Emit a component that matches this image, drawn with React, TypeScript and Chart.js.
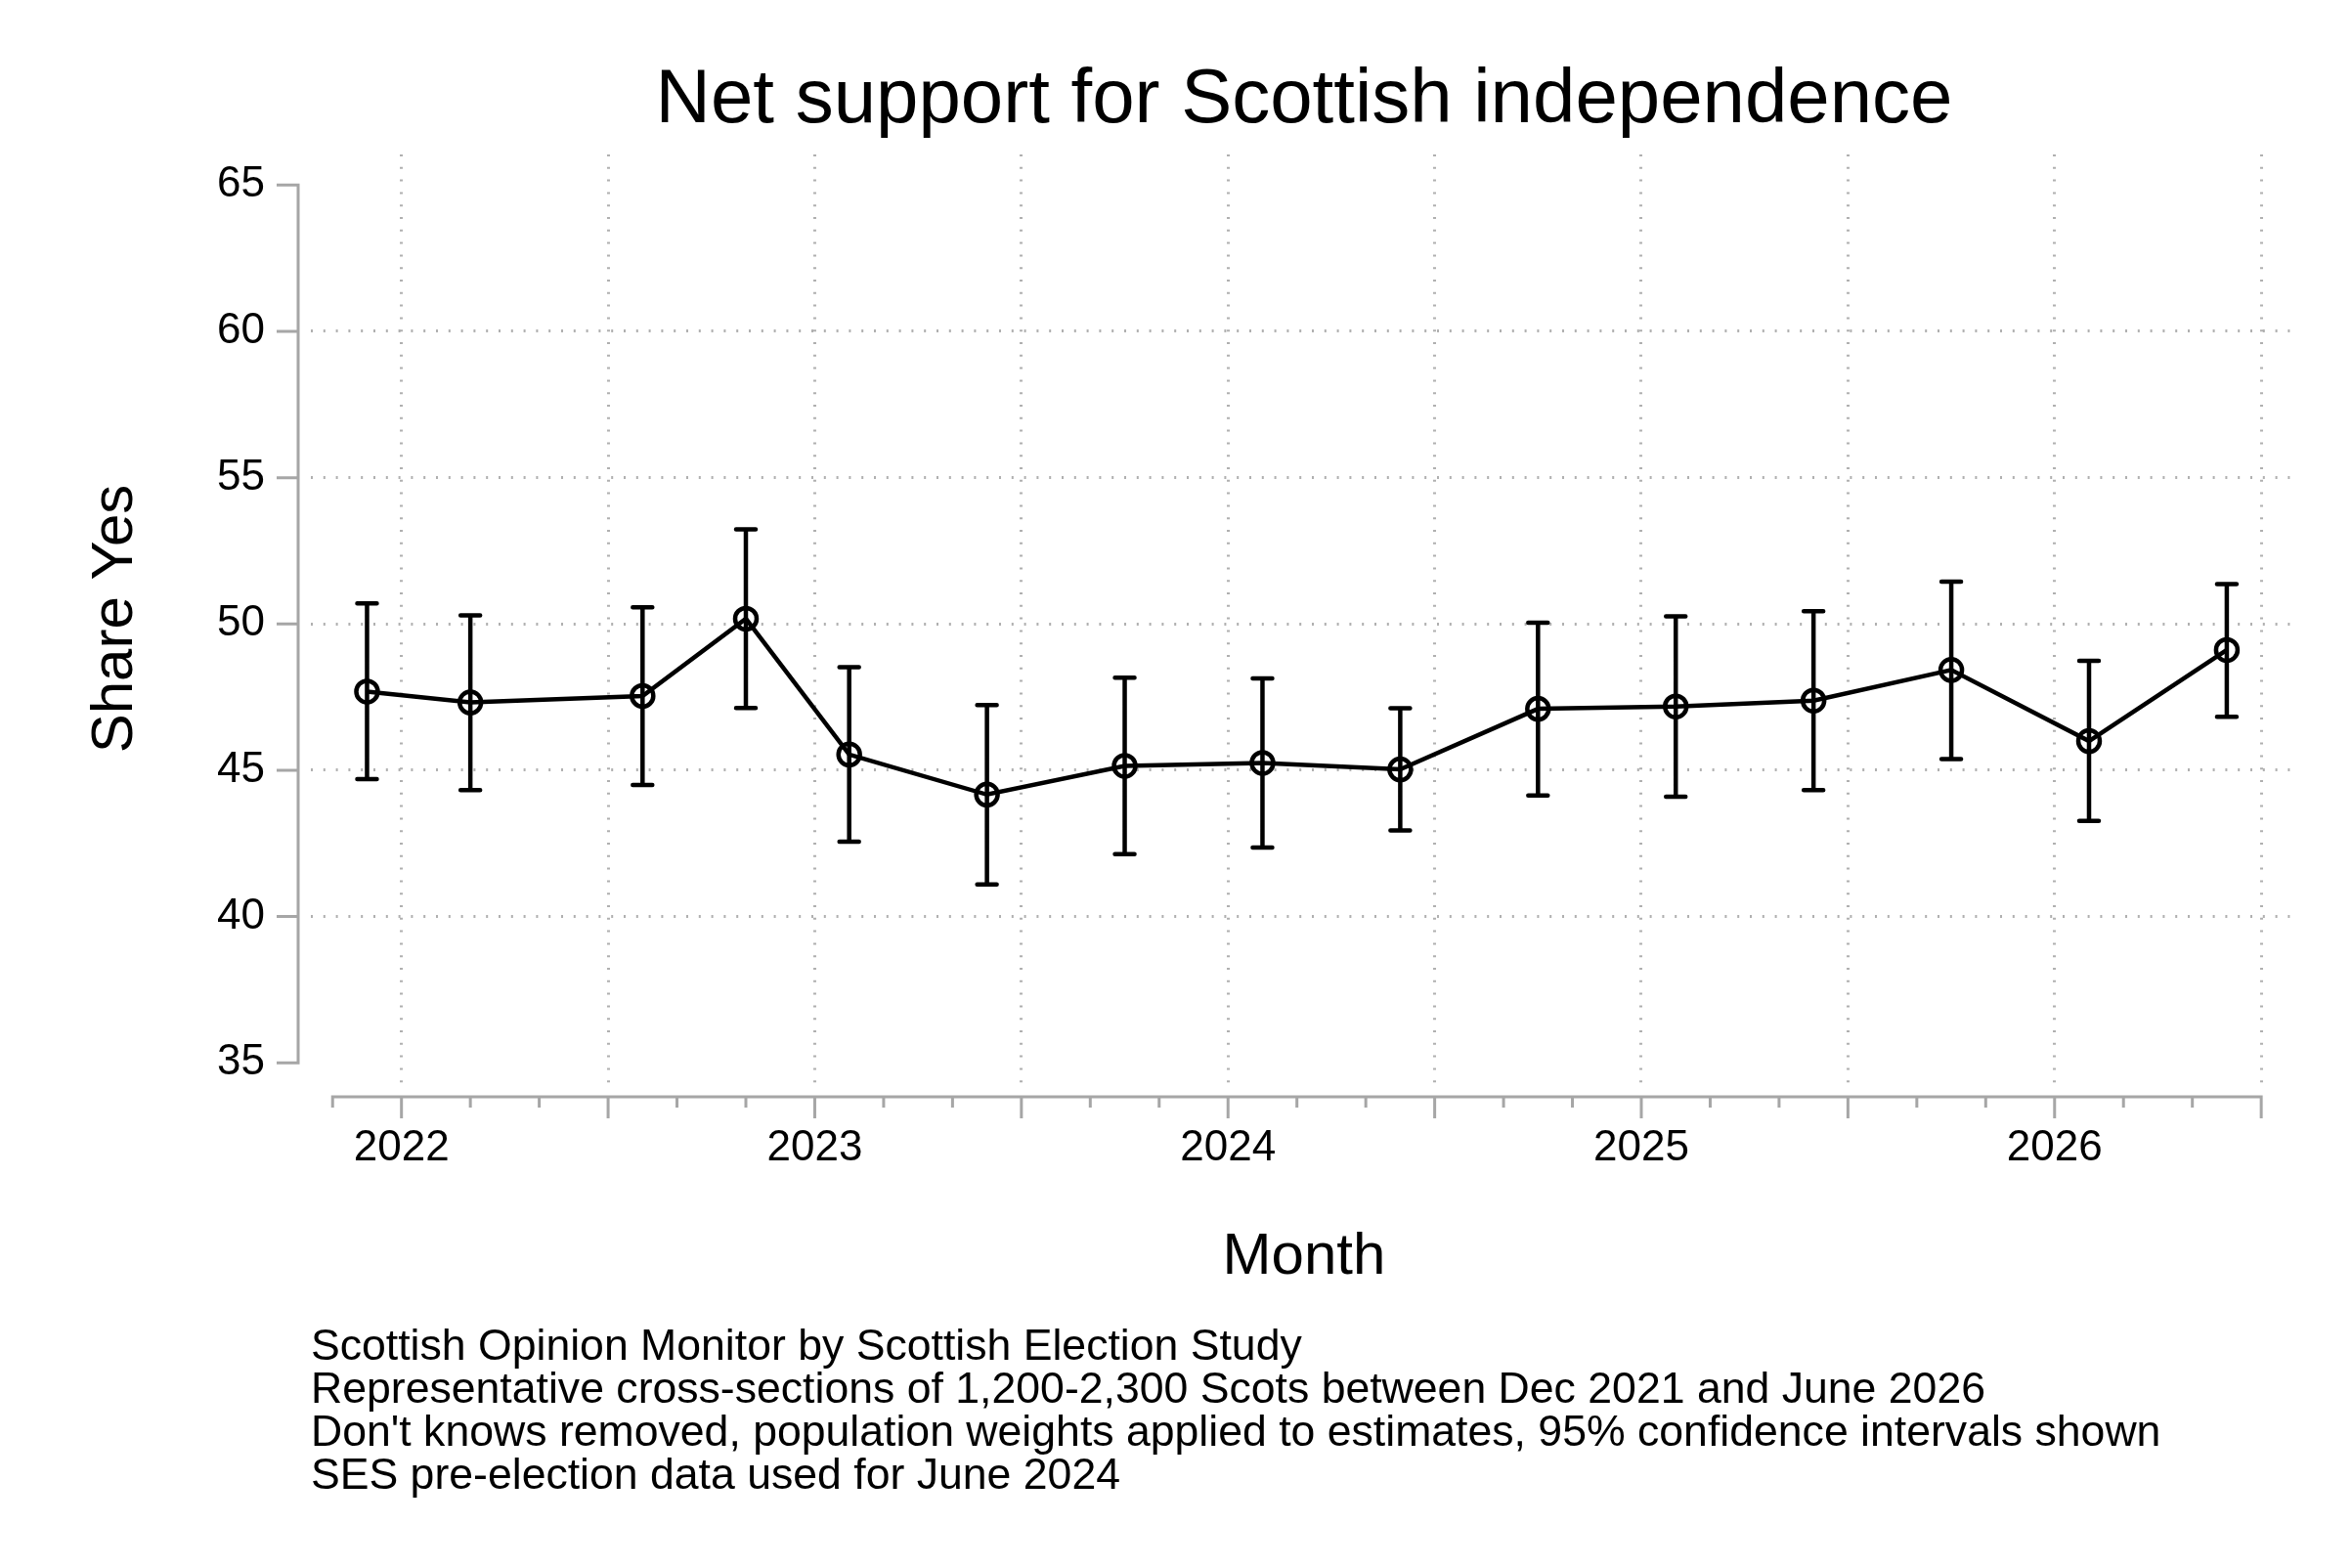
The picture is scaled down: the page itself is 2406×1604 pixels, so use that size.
import React, { useEffect, useRef } from "react";
import { Chart, ChartConfiguration, registerables } from "chart.js";

Chart.register(...registerables);

const FONT = '"Liberation Sans", Arial, Helvetica, sans-serif';

// survey waves (year-month) and estimates
const surveyMonths = [
  "2021-12", "2022-03", "2022-08", "2022-11", "2023-02", "2023-06", "2023-10", "2024-02",
  "2024-06", "2024-10", "2025-02", "2025-06", "2025-10", "2026-02", "2026-06",
];
const shareYes = [47.69, 47.32, 47.54, 50.18, 45.54, 44.17, 45.15, 45.25, 45.03, 47.1, 47.18, 47.38, 48.43, 46.0, 49.11];
const ciLow = [44.7, 44.32, 44.5, 47.13, 42.56, 41.1, 42.13, 42.36, 42.94, 44.14, 44.1, 44.32, 45.38, 43.27, 46.83];
const ciHigh = [50.7, 50.29, 50.57, 53.23, 48.52, 47.23, 48.16, 48.14, 47.12, 50.04, 50.26, 50.44, 51.45, 48.74, 51.36];

const yearLabels = ["2022", "2023", "2024", "2025", "2026"];
const yTicks = [35, 40, 45, 50, 55, 60, 65];
const gridMonths = [0, 6, 12, 18, 24, 30, 36, 42, 48, 54];
const axisStart = -2; // Nov 2021
const axisEnd = 54; // Jul 2026

const footnotes = [
  "Scottish Opinion Monitor by Scottish Election Study",
  "Representative cross-sections of 1,200-2,300 Scots between Dec 2021 and June 2026",
  "Don't knows removed, population weights applied to estimates, 95% confidence intervals shown",
  "SES pre-election data used for June 2024",
];

// months since Jan 2022
const monthIndex = (s: string) => {
  const [y, m] = s.split("-").map(Number);
  return (y - 2022) * 12 + (m - 1);
};
const months = surveyMonths.map(monthIndex);

const AXIS_GREY = "#a6a6a6";
const GRID_GREY = "#b0b0b0";

// Stata-style axes, set off from the plot region
const stataAxes = {
  id: "stataAxes",
  afterDraw(chart: any) {
    const { ctx, chartArea, scales } = chart;
    const xs = scales.x;
    const ys = scales.y;
    ctx.save();
    ctx.strokeStyle = AXIS_GREY;
    ctx.lineWidth = 3;
    ctx.lineJoin = "miter";

    const ax = chartArea.left - 13;
    const yTop = ys.getPixelForValue(yTicks[yTicks.length - 1]);
    const yBot = ys.getPixelForValue(yTicks[0]);
    ctx.beginPath();
    ctx.moveTo(ax - 22, yTop);
    ctx.lineTo(ax, yTop);
    ctx.lineTo(ax, yBot);
    ctx.lineTo(ax - 22, yBot);
    yTicks.slice(1, -1).forEach((v) => {
      const p = ys.getPixelForValue(v);
      ctx.moveTo(ax - 22, p);
      ctx.lineTo(ax, p);
    });
    ctx.stroke();

    const ay = chartArea.bottom + 14;
    const x0 = xs.getPixelForValue(axisStart);
    const x1 = xs.getPixelForValue(axisEnd);
    ctx.beginPath();
    ctx.moveTo(x0, ay + 11);
    ctx.lineTo(x0, ay);
    ctx.lineTo(x1, ay);
    ctx.lineTo(x1, ay + 22);
    for (let m = axisStart + 2; m < axisEnd; m += 2) {
      const p = xs.getPixelForValue(m);
      ctx.moveTo(p, ay);
      ctx.lineTo(p, ay + (m % 6 === 0 ? 22 : 11));
    }
    ctx.stroke();
    ctx.restore();
  },
};

const errorBars = {
  id: "errorBars",
  beforeDatasetsDraw(chart: any) {
    const { ctx, scales } = chart;
    const xs = scales.x;
    const ys = scales.y;
    ctx.save();
    ctx.strokeStyle = "#000";
    ctx.lineWidth = 4.5;
    ctx.lineCap = "round";
    ctx.beginPath();
    months.forEach((m, i) => {
      const px = xs.getPixelForValue(m);
      const lo = ys.getPixelForValue(ciLow[i]);
      const hi = ys.getPixelForValue(ciHigh[i]);
      ctx.moveTo(px, lo);
      ctx.lineTo(px, hi);
      ctx.moveTo(px - 10, lo);
      ctx.lineTo(px + 10, lo);
      ctx.moveTo(px - 10, hi);
      ctx.lineTo(px + 10, hi);
    });
    ctx.stroke();
    ctx.restore();
  },
};

const config: ChartConfiguration = {
  type: "line",
  data: {
    datasets: [
      {
        label: "Share Yes",
        data: months.map((m, i) => ({ x: m, y: shareYes[i] })),
        borderColor: "#000",
        borderWidth: 4.5,
        tension: 0,
        pointRadius: 11,
        pointBorderWidth: 4.5,
        pointBorderColor: "#000",
        pointBackgroundColor: "rgba(0,0,0,0)",
      },
    ],
  },
  options: {
    animation: false,
    responsive: true,
    maintainAspectRatio: false,
    devicePixelRatio: 1,
    layout: { padding: { top: 0, left: 0, right: 56, bottom: 71 } },
    plugins: {
      legend: { display: false },
      tooltip: { enabled: false },
      title: {
        display: true,
        text: "Net support for Scottish independence",
        fullSize: false,
        color: "#000",
        font: { family: FONT, size: 78, weight: "normal", lineHeight: "96px" },
        padding: { top: 55, bottom: 7 },
      },
      subtitle: {
        display: true,
        position: "bottom",
        align: "start",
        fullSize: false,
        text: footnotes,
        color: "#000",
        font: { family: FONT, size: 44.6, weight: "normal", lineHeight: "44px" },
        padding: { top: 35, bottom: 0 },
      },
    },
    scales: {
      x: {
        type: "linear",
        min: -2.631,
        max: 55.046,
        afterBuildTicks: (s: any) => {
          s.ticks = gridMonths.map((v) => ({ value: v }));
        },
        afterFit: (s: any) => {
          s.height = 214;
        },
        ticks: {
          autoSkip: false,
          maxRotation: 0,
          padding: 0,
          color: "#000",
          font: { family: FONT, size: 44, lineHeight: "133.6px" },
          callback: (v: any) => (Number(v) % 12 === 0 ? yearLabels[Number(v) / 12] : ""),
        },
        grid: { color: GRID_GREY, lineWidth: 3, drawTicks: false },
        border: { display: false, dash: [2, 10.8] },
        title: {
          display: true,
          text: "Month",
          color: "#000",
          font: { family: FONT, size: 60 },
          padding: { top: 0, bottom: 0 },
        },
      },
      y: {
        type: "linear",
        min: 34.308,
        max: 66.046,
        afterBuildTicks: (s: any) => {
          s.ticks = yTicks.map((v) => ({ value: v }));
        },
        afterFit: (s: any) => {
          s.width = 318;
        },
        ticks: {
          padding: 47,
          color: "#000",
          font: { family: FONT, size: 44 },
        },
        grid: {
          color: (c: any) => {
            const v = c.tick?.value;
            return v === yTicks[0] || v === yTicks[yTicks.length - 1] ? "rgba(0,0,0,0)" : GRID_GREY;
          },
          lineWidth: 3,
          drawTicks: false,
        },
        border: { display: false, dash: [2, 10.8] },
        title: {
          display: true,
          text: "Share Yes",
          color: "#000",
          font: { family: FONT, size: 60 },
          padding: { top: 82, bottom: 0 },
        },
      },
    },
  },
  plugins: [errorBars, stataAxes],
};

export default function App() {
  const chartRef = useRef<HTMLCanvasElement | null>(null);

  useEffect(() => {
    if (!chartRef.current) {
      return;
    }
    const chartInstance = new Chart(chartRef.current, config);
    return () => {
      chartInstance.destroy();
    };
  }, [chartRef]);

  return (
    <div style={{ position: "fixed", left: 0, top: 0, width: 2406, height: 1604, background: "#fff" }}>
      <canvas ref={chartRef}></canvas>
    </div>
  );
}
